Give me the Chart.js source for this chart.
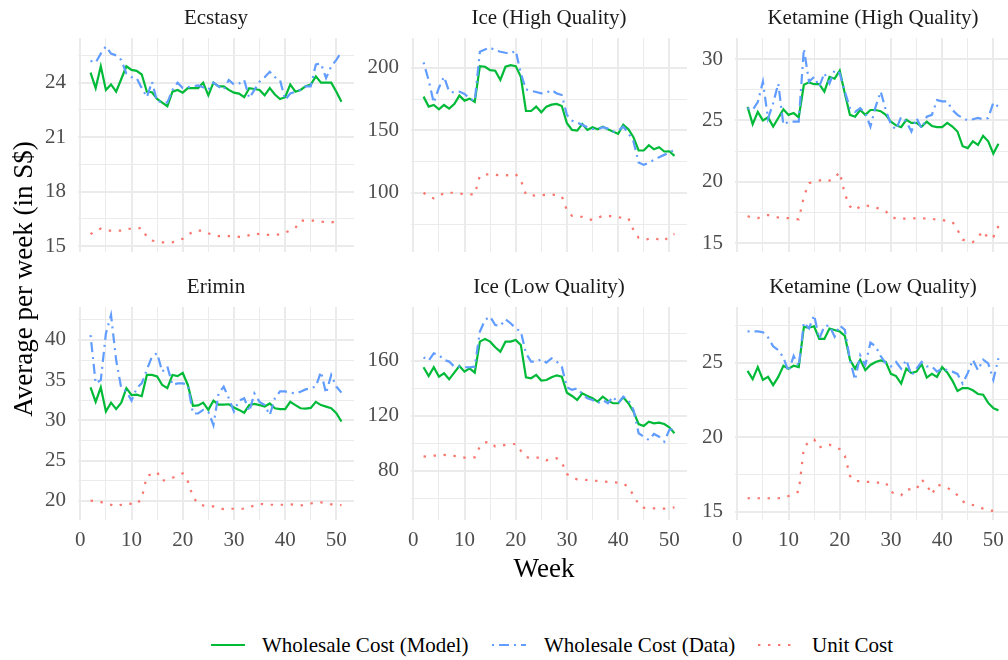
<!DOCTYPE html>
<html>
<head>
<meta charset="utf-8">
<script src="https://cdn.jsdelivr.net/npm/chart.js@4.4.1/dist/chart.umd.min.js"></script>
<style>
html, body { margin: 0; padding: 0; background: #fff; overflow: hidden; }
body { width: 1008px; height: 660px; position: relative; font-family: 'Liberation Serif', 'Times New Roman', serif; }
canvas { position: absolute; }
.strip { position: absolute; width: 276px; text-align: center; font-size: 21px; line-height: 24px; color: #1a1a1a; }
.axis-title { position: absolute; font-size: 27px; line-height: 32px; color: #000; text-align: center; }
.legend-key { position: absolute; }
.legend-text { position: absolute; font-size: 21px; line-height: 24px; color: #000; white-space: nowrap; }
</style>
</head>
<body>
<script>
// weeks 2..51
const weeks = [2,3,4,5,6,7,8,9,10,11,12,13,14,15,16,17,18,19,20,21,22,23,24,25,26,
  27,28,29,30,31,32,33,34,35,36,37,38,39,40,41,42,43,44,45,46,47,48,49,50,51];

const seriesNames = ["Wholesale Cost (Model)", "Wholesale Cost (Data)", "Unit Cost"];
const xTicks = [0, 10, 20, 30, 40, 50];

// Ecstasy
const ecstasyModel = [24.55,23.7,24.9,23.6,23.9,23.5,24.2,24.9,24.7,24.65,
  24.45,23.5,23.47,23.1,22.9,22.7,23.5,23.6,23.45,23.7,
  23.7,23.7,24.0,23.3,24.0,23.8,23.8,23.6,23.45,23.4,
  23.2,23.7,23.65,23.6,23.3,23.7,23.35,23.1,23.2,23.9,
  23.5,23.6,23.8,23.9,24.35,24.0,24.0,24.0,23.5,22.95];
const ecstasyData = [25.2,25.1,25.6,26.0,25.6,25.5,25.25,24.5,24.3,24.25,
  23.7,23.2,24.05,22.95,22.95,22.9,23.6,24.0,23.7,23.75,
  23.8,23.85,23.75,23.6,24.0,23.8,23.6,24.15,23.9,23.95,
  24.15,23.15,23.6,24.05,24.3,24.6,24.3,24.15,23.05,23.4,
  23.5,23.6,23.8,23.8,25.0,25.05,24.25,24.9,25.25,25.7];
const ecstasyUnit = [15.65,15.85,15.95,15.85,15.85,15.85,15.85,15.95,15.95,15.95,
  16.0,15.5,15.3,15.25,15.2,15.2,15.2,15.3,15.4,15.6,
  15.8,15.85,15.85,15.7,15.6,15.55,15.55,15.55,15.55,15.5,
  15.5,15.6,15.7,15.65,15.65,15.6,15.6,15.65,15.75,15.85,
  16.0,16.4,16.4,16.4,16.4,16.35,16.3,16.3,16.35,16.35];
const ecstasyTicks = [15, 18, 21, 24];

// Ice (High Quality)
const iceHighModel = [176.9,168.9,170.2,166.8,170.2,167.3,171,177.7,173.7,175.3,
  172.6,201.3,200.8,198.1,197.6,190.2,200.8,202,201.3,192.8,
  165.4,165.4,168.9,164.4,168.9,170.5,171,169.4,155.6,150.3,
  149.7,155,150.3,152.4,150.8,152.9,150.8,148.9,147.1,154.5,
  150.8,144.4,133.8,133.8,138,134.8,136.4,133,133.2,129.5];
const iceHighData = [204.3,190,172,184,192.8,180.9,180.3,180.9,179,175.5,
  173.4,212.8,214.6,216.2,214,212.8,212,211.4,213.6,195.5,
  182.7,181.6,180.6,179.5,180,182.2,179.5,178.2,162.2,157.7,
  156.1,154.3,152.4,151.1,150.8,152.4,151.3,148.9,149.7,152.9,
  147.6,141,124.2,122.3,124.2,126.3,128.5,130.3,132.2,134.3];
const iceHighUnit = [100,97,95.5,97,100,100,100,99.5,98.7,98.7,
  98.7,113.6,114.5,114.9,114.3,113.9,113.9,114.3,114.9,110,
  98.5,97.6,98,98.1,98.4,98.7,98,97.1,86,81.5,
  81,80.7,79,78.3,80,81.5,81.4,81.3,80.5,79.7,
  79.7,70,64,62.5,63,63.8,62.5,61.4,65.5,67];
const iceHighTicks = [100, 150, 200];

// Ketamine (High Quality)
const ketHighModel = [26.1,24.7,25.7,25.0,25.25,24.5,25.2,25.9,25.45,25.6,
  25.25,27.9,28.1,27.95,27.95,27.35,28.55,28.4,29.05,27.2,
  25.45,25.3,25.85,25.45,25.85,25.85,25.75,25.45,24.9,24.6,
  24.45,25.05,24.8,24.8,24.5,24.9,24.55,24.45,24.45,24.8,
  24.5,24.1,22.9,22.75,23.3,23.0,23.75,23.3,22.3,23.1];
const ketHighData = [26.0,25.85,26.5,28.15,25.15,26.4,28.0,24.65,24.9,24.9,
  24.9,30.85,28.15,28.55,27.75,28.85,28.0,29.1,28.85,27.35,
  26.0,25.7,26.0,25.6,24.5,26.1,27.35,25.85,24.65,24.25,
  25.3,24.9,24.1,25.2,24.35,25.3,25.45,26.65,26.55,26.55,
  25.85,25.45,25.2,25.0,25.1,25.2,25.1,25.2,26.45,26.1];
const ketHighUnit = [17.2,17.1,17.05,17.2,17.3,17.2,17.1,17.05,17.05,17.0,
  16.95,18.8,19.9,20.0,20.1,20.2,20.1,20.3,20.8,19.0,
  18.0,17.7,18.0,18.1,18.0,17.9,17.8,17.6,17.2,17.0,
  17.0,17.0,17.0,17.05,17.05,17.0,17.0,16.9,16.9,16.8,
  16.75,16.1,15.3,15.15,15.1,15.5,16.0,15.4,15.5,16.4];
const ketHighTicks = [15, 20, 25, 30];

// Erimin
const eriminModel = [34.1,32.3,34.1,31.1,32.2,31.4,32.2,34.0,33.15,33.2,
  33.0,35.65,35.65,35.45,34.4,34.0,35.65,35.5,35.9,34.4,
  31.8,31.85,32.2,31.3,32.45,31.95,31.95,32.0,31.6,31.3,
  30.95,31.9,32.05,31.9,31.7,32.1,31.5,31.4,31.4,32.3,
  31.9,31.5,31.45,31.55,32.3,31.9,31.7,31.5,30.9,29.85];
const eriminData = [40.6,34.6,35.0,40.8,43.1,37.5,34.0,33.6,32.45,34.0,
  34.6,36.3,37.95,38.35,36.05,36.7,34.4,34.6,34.6,34.4,
  30.85,30.85,31.3,31.1,29.4,33.35,34.2,32.75,31.1,32.45,
  32.75,31.1,33.35,32.3,31.9,30.65,32.75,33.6,33.6,33.45,
  33.35,33.55,33.85,34.0,34.2,36.05,33.35,35.65,34.2,33.45];
const eriminUnit = [20.0,19.95,19.85,19.6,19.5,19.3,19.5,19.7,19.6,19.55,
  20.3,23.1,23.3,23.55,22.45,22.7,22.85,23.1,23.4,22.4,
  20.5,19.6,19.4,19.3,19.3,19.1,18.95,19.0,19.0,19.0,
  19.0,19.2,19.4,19.6,19.55,19.5,19.5,19.5,19.5,19.55,
  19.5,19.4,19.5,19.65,19.75,19.8,19.65,19.55,19.5,19.45];
const eriminTicks = [20, 25, 30, 35, 40];

// Ice (Low Quality)
const iceLowModel = [155.2,148.8,155.2,148.4,150.8,146.4,151.3,156.1,152,154.4,
  151.3,173.8,175.8,173.8,169.7,166.5,173.8,173.8,175,171.4,
  147.9,147.2,149.6,145.5,145.9,147.9,149.3,148.4,136.7,134.3,
  131.4,136.2,134.3,132.6,130.2,133.8,130.9,129,129,133.3,
  129,122.9,113.9,112.5,115.6,114.4,114.9,113.9,111.5,107.2];
const iceLowData = [162.4,160,165.3,164.1,160.5,159.3,155.6,155.6,155.2,155.2,
  155.6,181.1,189.6,192,185.9,185.2,190.1,187.2,183.5,181.1,
  165.3,159.3,159.3,161,158.5,161.7,159.3,155.6,140.6,138.7,
  139.9,135.8,132.6,131.4,129,131.4,129,133.8,129,133.8,
  131.4,124.1,107.2,104.7,102.3,106.7,104.7,101.1,109.6,110.8];
const iceLowUnit = [90.2,90.5,90.9,91.1,91.4,91,90.7,90,89.5,89.6,
  89.7,97.5,100.5,101,97.5,98,98.7,99,99.4,94.5,
  90,89,89.5,89.5,87.5,88.5,89,86,77.6,75,
  73.7,73.5,73.2,72.8,72.5,72.2,71.8,71.5,71.3,70.8,
  68,62,55.5,53,52.8,52.6,52.5,52.4,52.8,53.3];
const iceLowTicks = [80, 120, 160];

// Ketamine (Low Quality)
const ketLowModel = [24.45,23.9,24.7,23.85,24.05,23.5,24.05,24.8,24.6,24.8,
  24.7,27.4,27.35,27.45,26.6,26.6,27.3,27.2,27.1,26.8,
  25.2,24.6,25.2,24.5,24.85,25.05,25.15,25.05,24.25,24.1,
  23.6,24.6,24.3,24.4,24.9,24.0,24.25,24.05,24.7,24.35,
  23.8,23.1,23.3,23.3,23.15,22.9,22.85,22.3,21.95,21.8];
const ketLowData = [27.1,27.1,27.1,27.05,26.7,26.1,25.85,25.35,24.4,25.45,
  24.75,27.7,27.3,28.2,26.6,27.45,27.5,26.75,27.5,27.2,
  25.2,23.85,25.5,24.85,26.35,26.1,25.45,24.95,24.75,25.05,
  24.6,25.2,24.15,24.6,25.05,24.75,24.75,24.4,24.6,24.5,
  24.4,24.25,23.6,24.3,25.2,24.5,25.2,24.95,23.85,25.3];
const ketLowUnit = [15.9,15.9,15.9,15.9,15.9,15.9,15.9,15.95,16.05,16.2,
  16.35,19.3,19.7,19.85,19.3,19.45,19.5,19.35,19.2,18.75,
  17.4,17.05,17.05,17.0,17.0,16.95,16.95,16.95,16.35,16.15,
  16.1,16.5,16.5,16.5,17.15,16.8,16.15,16.8,16.75,16.6,
  16.4,16.1,15.7,15.5,15.45,15.35,15.2,15.1,15.05,15.0];
const ketLowTicks = [15, 20, 25];

// colours / looks
const colors = ["#00BA38", "#619CFF", "#F8766D"];
const dashes = [[], [2, 5, 10, 5], [2.4, 7.6]];
const FONT = "'Liberation Serif', 'Times New Roman', serif";
const GRID = "#EBEBEB";

// panel layout (ggplot facet_wrap, free y)
const PANEL_W = 276;
const colLeft = [78, 411, 735];
const rowTop = [38, 307];
const rowH = [214, 213];

const panels = [
  { title: "Ecstasy", series: [ecstasyModel, ecstasyData, ecstasyUnit], ticks: ecstasyTicks, yMin: 14.67, yMax: 26.46, col: 0, row: 0 },
  { title: "Ice (High Quality)", series: [iceHighModel, iceHighData, iceHighUnit], ticks: iceHighTicks, yMin: 52.6, yMax: 223.8, col: 1, row: 0 },
  { title: "Ketamine (High Quality)", series: [ketHighModel, ketHighData, ketHighUnit], ticks: ketHighTicks, yMin: 14.29, yMax: 31.71, col: 2, row: 0 },
  { title: "Erimin", series: [eriminModel, eriminData, eriminUnit], ticks: eriminTicks, yMin: 17.6, yMax: 44.1, col: 0, row: 1 },
  { title: "Ice (Low Quality)", series: [iceLowModel, iceLowData, iceLowUnit], ticks: iceLowTicks, yMin: 44.1, yMax: 199, col: 1, row: 1 },
  { title: "Ketamine (Low Quality)", series: [ketLowModel, ketLowData, ketLowUnit], ticks: ketLowTicks, yMin: 14.44, yMax: 28.74, col: 2, row: 1 },
];

// major ticks plus minor lines halfway between
function withMinor(majors, min, max) {
  const step = majors.length > 1 ? majors[1] - majors[0] : 1;
  const out = [];
  for (let v = majors[0] - step; v <= majors[majors.length - 1] + step + 1e-9; v += step / 2) {
    const r = Math.round(v * 1000) / 1000;
    if (r < min - 1e-9 || r > max + 1e-9) continue;
    const isMajor = majors.some(m => Math.abs(m - r) < 1e-6);
    out.push({ value: r, minor: !isMajor });
  }
  return out;
}

const gridOpts = {
  color: GRID,
  lineWidth: ctx => (ctx.tick && ctx.tick.minor ? 1 : 2),
  drawTicks: false,
};

function makePanel(p) {
  const bottom = p.row === 1;
  const left = colLeft[p.col], top = rowTop[p.row], h = rowH[p.row];
  const padTop = 30, padRight = 10, padBottom = bottom ? 10 : 30;
  const axisW = 50, axisH = bottom ? 42 : 0;
  const cw = axisW + PANEL_W + padRight;
  const ch = padTop + h + axisH + padBottom;

  const canvas = document.createElement("canvas");
  canvas.width = cw; canvas.height = ch;
  canvas.style.left = (left - axisW) + "px";
  canvas.style.top = (top - padTop) + "px";
  canvas.style.width = cw + "px";
  canvas.style.height = ch + "px";
  document.body.appendChild(canvas);

  const strip = document.createElement("div");
  strip.className = "strip";
  strip.textContent = p.title;
  strip.style.left = left + "px";
  strip.style.top = (top - 33) + "px";
  document.body.appendChild(strip);

  new Chart(canvas, {
    type: "line",
    data: {
      labels: weeks,
      datasets: p.series.map((s, i) => ({
        label: seriesNames[i],
        data: s.map((v, k) => ({ x: weeks[k], y: v })),
        borderColor: colors[i],
        borderWidth: i === 2 ? 2.2 : 2.2,
        borderDash: dashes[i],
        borderCapStyle: "butt",
        pointRadius: 0,
        tension: 0,
        fill: false,
        order: 2 - i,
      })),
    },
    options: {
      responsive: false,
      animation: false,
      devicePixelRatio: 1,
      layout: { padding: { top: padTop, right: padRight, bottom: padBottom, left: 0 } },
      plugins: { legend: { display: false }, tooltip: { enabled: false } },
      scales: {
        x: {
          type: "linear",
          min: -0.45,
          max: 53.45,
          grid: gridOpts,
          border: { display: false },
          afterBuildTicks: scale => { scale.ticks = withMinor(xTicks, scale.min, scale.max).filter(t => t.value >= 0 && t.value <= 50); },
          afterFit: scale => { scale.height = axisH; },
          ticks: {
            display: bottom,
            autoSkip: false,
            maxRotation: 0,
            padding: 8,
            color: "#4D4D4D",
            font: { family: FONT, size: 21 },
            callback: (v, i, ticks) => (ticks[i].minor ? "" : String(v)),
          },
        },
        y: {
          type: "linear",
          min: p.yMin,
          max: p.yMax,
          grid: gridOpts,
          border: { display: false },
          afterBuildTicks: scale => { scale.ticks = withMinor(p.ticks, scale.min, scale.max); },
          afterFit: scale => { scale.width = axisW; },
          ticks: {
            autoSkip: false,
            padding: 12,
            color: "#4D4D4D",
            font: { family: FONT, size: 21 },
            callback: (v, i, ticks) => (ticks[i].minor ? "" : String(v)),
          },
        },
      },
    },
  });
}

panels.forEach(makePanel);

// axis titles
const xTitle = document.createElement("div");
xTitle.className = "axis-title";
xTitle.textContent = "Week";
xTitle.style.left = (544 - 100) + "px";
xTitle.style.top = (568 - 16) + "px";
xTitle.style.width = "200px";
document.body.appendChild(xTitle);

const yTitle = document.createElement("div");
yTitle.className = "axis-title";
yTitle.textContent = "Average per week (in S$)";
yTitle.style.left = (23 - 200) + "px";
yTitle.style.top = (279 - 16) + "px";
yTitle.style.width = "400px";
yTitle.style.transform = "rotate(-90deg)";
document.body.appendChild(yTitle);

// legend
const legendY = 645;
const keyLeft = [211, 492, 758];
const textLeft = [262, 544, 812];
seriesNames.forEach((name, i) => {
  const key = document.createElementNS("http://www.w3.org/2000/svg", "svg");
  key.setAttribute("class", "legend-key");
  key.setAttribute("width", "34");
  key.setAttribute("height", "6");
  key.style.left = keyLeft[i] + "px";
  key.style.top = (legendY - 3) + "px";
  const ln = document.createElementNS("http://www.w3.org/2000/svg", "line");
  ln.setAttribute("x1", "0"); ln.setAttribute("x2", "34");
  ln.setAttribute("y1", "3"); ln.setAttribute("y2", "3");
  ln.setAttribute("stroke", colors[i]);
  ln.setAttribute("stroke-width", "2.2");
  if (dashes[i].length) ln.setAttribute("stroke-dasharray", dashes[i].join(" "));
  key.appendChild(ln);
  document.body.appendChild(key);

  const t = document.createElement("div");
  t.className = "legend-text";
  t.textContent = name;
  t.style.left = textLeft[i] + "px";
  t.style.top = (legendY - 12) + "px";
  document.body.appendChild(t);
});
</script>
</body>
</html>
